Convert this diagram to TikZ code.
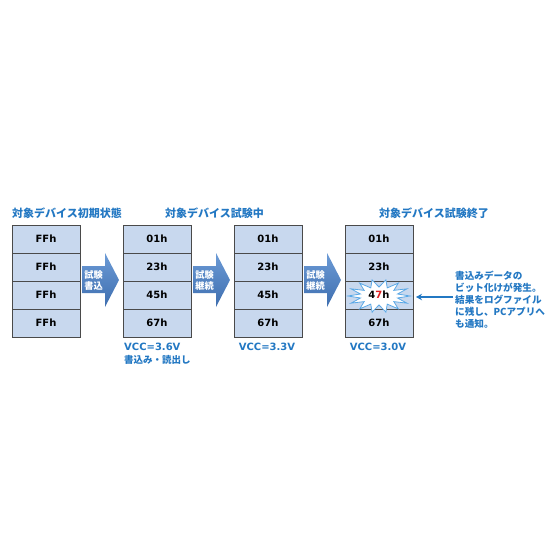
\documentclass[tikz,border=0pt]{standalone}
\usepackage{fontspec}
\setmainfont{Noto Sans CJK JP}
\newfontfamily\lat{DejaVu Sans}
\usetikzlibrary{arrows.meta}
\definecolor{ttl}{HTML}{2378C3}
\definecolor{cellfill}{HTML}{C8D8EE}
\definecolor{cellline}{HTML}{4A4A4A}
\definecolor{arrtop}{HTML}{6C9BD6}
\definecolor{arrbot}{HTML}{3E6EAF}
\definecolor{starline}{HTML}{5AA8E6}
\definecolor{errred}{HTML}{E02020}
\newcommand\blockarr[4]{%
  \shade[top color=arrtop,bottom color=arrbot]
    (#1,266) -- (#1+23,266) -- (#1+23,253) -- (#1+37,280) -- (#1+23,307) -- (#1+23,293) -- (#1,293) -- cycle;
  \node[arrtxt] (#2) at (#1+11.5,280.5) {#3\\#4};}
\begin{document}
\begin{tikzpicture}[x=1pt,y=-1pt,
  cell/.style={draw=cellline, line width=0.9pt, fill=cellfill, minimum width=68pt, minimum height=28pt, inner sep=0, font=\lat\fontsize{10}{11}\selectfont\bfseries},
  celltxt/.style={inner sep=0, font=\lat\fontsize{10}{11}\selectfont\bfseries},
  ttlstyle/.style={text=ttl, font=\fontsize{11}{13}\selectfont\bfseries, inner sep=0, anchor=west},
  vcc/.style={text=ttl, font=\lat\fontsize{10}{12}\selectfont\bfseries, inner sep=0},
  note/.style={text=ttl, font=\fontsize{9.6}{12}\selectfont\bfseries, inner sep=0, align=left},
  arrtxt/.style={text=white, font=\fontsize{9.2}{11.5}\selectfont\bfseries, inner sep=0, align=center},
  burst/.style={draw=starline, line width=0.8pt, fill=white, line join=miter}
]
\useasboundingbox (0,0) rectangle (560,560);
\fill[white] (0,0) rectangle (560,560);

% titles
\node[ttlstyle] (t1) at (12,213) {対象デバイス初期状態};
\node[ttlstyle] (t2) at (165,213) {対象デバイス試験中};
\node[ttlstyle] (t4) at (379,213) {対象デバイス試験終了};

% column 1
\foreach \r in {1,...,4}
  \node[cell] (c1-\r) at (46,{211+28*\r}) {FFh};
% columns 2 and 3
\foreach \c/\x in {2/157,3/268}
  \foreach \r/\t in {1/01h,2/23h,3/45h,4/67h}
    \node[cell] (c\c-\r) at (\x,{211+28*\r}) {\t};
% column 4
\node[cell] (c4-1) at (379,239) {01h};
\node[cell] (c4-2) at (379,267) {23h};
\node[cell] (c4-3) at (379,295) {};
\node[cell] (c4-4) at (379,323) {67h};

% burst in c4-3
\draw[burst] ({379+31},296)
  \foreach \k in {0,...,13}{
    -- ({379+19*cos(\k*360/14+360/28)},{296+9*sin(\k*360/14+360/28)})
    -- ({379+31*cos((\k+1)*360/14)},{296+16.5*sin((\k+1)*360/14)})
  } -- cycle;
\node[celltxt] (t43) at (c4-3.center) {4\textcolor{errred}{7}h};

% block arrows
\blockarr{82}{a1}{試験}{書込}
\blockarr{193}{a2}{試験}{継続}
\blockarr{304}{a3}{試験}{継続}

% bottom labels
\node[vcc, anchor=west] (v2) at (124,347) {VCC=3.6V};
\node[text=ttl, font=\fontsize{9.5}{11}\selectfont\bfseries, inner sep=0, anchor=west] (rw) at (124,360) {書込み・読出し};
\node[vcc] (v3) at (267,347) {VCC=3.3V};
\node[vcc] (v4) at (378,347) {VCC=3.0V};

% annotation
\node[note, anchor=north west] (n1) at (455,271) {書込みデータの\\ビット化けが発生。\\結果をログファイル\\に残し、PCアプリへ\\も通知。};
\coordinate (p1) at (453,297);
\coordinate (p2) at (416,297);
\draw[ttl, line width=1.6pt, -{Stealth[length=6pt,width=6.5pt]}] (p1) -- (p2);
\end{tikzpicture}
\end{document}
